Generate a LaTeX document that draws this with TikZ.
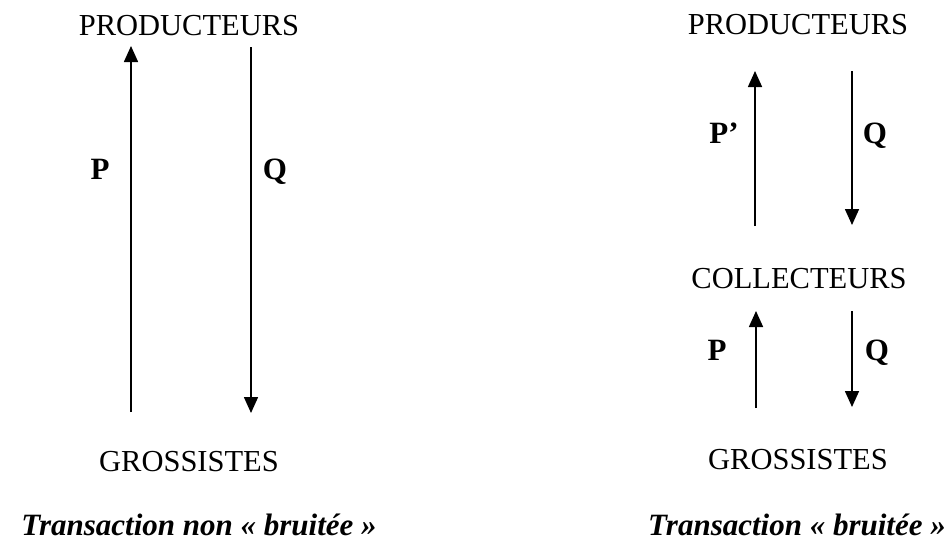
\documentclass[tikz,border=0pt]{standalone}
\usepackage{fontspec}
\setmainfont{Liberation Serif}
\usetikzlibrary{arrows.meta}
\tikzset{
  lbl/.style={inner sep=0pt, anchor=base, font=\fontsize{30.5}{34}\selectfont},
  qty/.style={inner sep=0pt, anchor=base, font=\fontsize{31}{34}\selectfont\bfseries},
  captxt/.style={inner sep=0pt, anchor=base, font=\fontsize{31}{34}\selectfont\bfseries\itshape},
  flow/.style={line width=1.6pt, -{Triangle[length=16pt,width=14pt]}}
}
\begin{document}
\begin{tikzpicture}[x=1pt,y=-1pt]
\useasboundingbox (0,0) rectangle (949,544);
% left diagram
\node[lbl] (prodL) at (189,35) {PRODUCTEURS};
\node[lbl] (grosL) at (189,471) {GROSSISTES};
\coordinate (aLs) at (131,412);
\coordinate (aLe) at (131,46);
\coordinate (bLs) at (251,47);
\coordinate (bLe) at (251,413);
\draw[flow] (aLs) -- (aLe);
\draw[flow] (bLs) -- (bLe);
\node[qty] (pL) at (100,179) {P};
\node[qty] (qL) at (275,179) {Q};
\node[captxt] (capL) at (199,535) {Transaction non « bruitée »};
% right diagram
\node[lbl] (prodR) at (798,34) {PRODUCTEURS};
\node[lbl] (collR) at (799,288) {COLLECTEURS};
\node[lbl] (grosR) at (798,469) {GROSSISTES};
\coordinate (aR1s) at (755,226);
\coordinate (aR1e) at (755,71);
\coordinate (bR1s) at (852,71);
\coordinate (bR1e) at (852,225);
\draw[flow] (aR1s) -- (aR1e);
\draw[flow] (bR1s) -- (bR1e);
\node[qty] (pR1) at (724,143) {P’};
\node[qty] (qR1) at (875,143) {Q};
\coordinate (aR2s) at (756,408);
\coordinate (aR2e) at (756,311);
\coordinate (bR2s) at (852,311);
\coordinate (bR2e) at (852,407);
\draw[flow] (aR2s) -- (aR2e);
\draw[flow] (bR2s) -- (bR2e);
\node[qty] (pR2) at (717,360) {P};
\node[qty] (qR2) at (877,360) {Q};
\node[captxt] (capR) at (797,535) {Transaction « bruitée »};
\end{tikzpicture}
\end{document}
